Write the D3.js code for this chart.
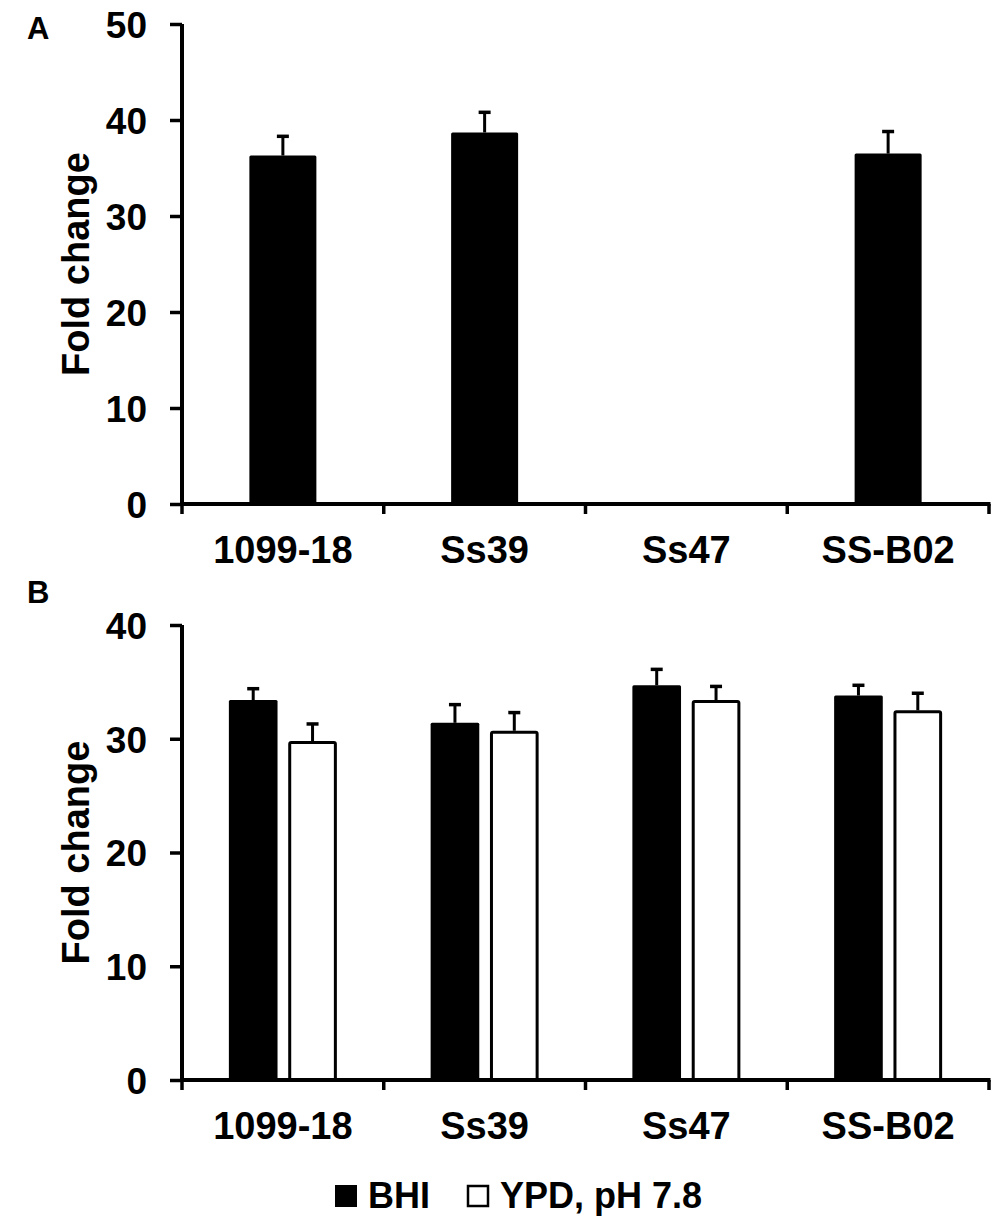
<!DOCTYPE html>
<html>
<head>
<meta charset="utf-8">
<script src="https://cdn.jsdelivr.net/npm/d3@7"></script>
<style>
  body { margin: 0; background: #fff; }
  svg text { font-family: "Liberation Sans", Arial, sans-serif; font-weight: bold; fill: #000; }
</style>
</head>
<body>
<svg id="chart" width="1000" height="1225"></svg>
<script>
const strains = ["1099-18", "Ss39", "Ss47", "SS-B02"];
const seriesNames = ["BHI", "YPD, pH 7.8"];

// panel A: BHI only (Ss47 no expression)
const aBHI = [36.3, 38.7, 0, 36.5];
const aBHIErr = [2.0, 2.1, 0, 2.3];
const aTicks = [0, 10, 20, 30, 40, 50];

// panel B: BHI vs YPD pH 7.8
const bBHI = [33.4, 31.4, 34.7, 33.8];
const bBHIErr = [1.0, 1.6, 1.4, 0.9];
const bYPD = [29.8, 30.7, 33.4, 32.5];
const bYPDErr = [1.5, 1.6, 1.2, 1.5];
const bTicks = [0, 10, 20, 30, 40];

const svg = d3.select("#chart");
const left = 182, right = 989;

function drawPanel(opts) {
  const { top, bottom, max, ticks, series, errs, letter, letterY, groupWidth } = opts;

  const x0 = d3.scaleBand().domain(strains).range([left, right]);
  const x1 = d3.scaleBand()
    .domain(series.map((s, i) => i))
    .range([0, groupWidth])
    .paddingInner(series.length > 1 ? 0.18 : 0);
  const y = d3.scaleLinear().domain([0, max]).range([bottom, top]);

  const g = svg.append("g");

  // bars
  series.forEach((vals, si) => {
    vals.forEach((v, i) => {
      if (v <= 0) return;
      const bx = x0(strains[i]) + (x0.bandwidth() - groupWidth) / 2 + x1(si);
      const filled = si === 0;
      g.append("rect")
        .attr("x", filled ? bx : bx + 1.5)
        .attr("y", filled ? y(v) : y(v) + 1.5)
        .attr("width", filled ? x1.bandwidth() : x1.bandwidth() - 3)
        .attr("height", filled ? bottom - y(v) : bottom - y(v) - 1.5)
        .attr("rx", 1.5)
        .attr("fill", filled ? "#000" : "#fff")
        .attr("stroke", "#000")
        .attr("stroke-width", filled ? 0 : 3);

      // error bar (upper only)
      const cx = bx + x1.bandwidth() / 2;
      const e = errs[si][i];
      g.append("line")
        .attr("x1", cx).attr("x2", cx)
        .attr("y1", y(v)).attr("y2", y(v + e))
        .attr("stroke", "#000").attr("stroke-width", 3);
      g.append("line")
        .attr("x1", cx - 6).attr("x2", cx + 6)
        .attr("y1", y(v + e)).attr("y2", y(v + e))
        .attr("stroke", "#000").attr("stroke-width", 3.5);
    });
  });

  // y axis
  const yAxis = g.append("g")
    .attr("transform", `translate(${left},0)`)
    .call(d3.axisLeft(y).tickValues(ticks).tickSize(12).tickPadding(23).tickSizeOuter(0));
  yAxis.select(".domain").attr("stroke-width", 4).attr("d", `M0,${top}V${bottom + 2}`);
  yAxis.selectAll(".tick line").attr("stroke-width", 3.5);
  yAxis.selectAll(".tick text").attr("font-size", 37).attr("dy", "0.36em");

  // x axis with ticks at category boundaries
  const bounds = d3.scaleLinear().domain([0, strains.length]).range([left, right]);
  g.append("line")
    .attr("x1", left - 2).attr("x2", right + 1.5)
    .attr("y1", bottom).attr("y2", bottom)
    .attr("stroke", "#000").attr("stroke-width", 4);
  d3.range(strains.length + 1).forEach(k => {
    g.append("line")
      .attr("x1", bounds(k)).attr("x2", bounds(k))
      .attr("y1", bottom).attr("y2", bottom + 10)
      .attr("stroke", "#000").attr("stroke-width", 3.5);
  });
  g.selectAll(".xlab")
    .data(strains)
    .join("text")
    .attr("x", d => x0(d) + x0.bandwidth() / 2)
    .attr("y", bottom + 59)
    .attr("text-anchor", "middle")
    .attr("font-size", 38)
    .text(d => d);

  // y label
  g.append("text")
    .attr("transform", `translate(89,${(top + bottom) / 2}) rotate(-90)`)
    .attr("text-anchor", "middle")
    .attr("font-size", 38)
    .text("Fold change");

  // panel letter
  g.append("text")
    .attr("x", 27).attr("y", letterY)
    .attr("font-size", 31)
    .text(letter);
}

drawPanel({
  top: 24, bottom: 504, max: 50, ticks: aTicks,
  series: [aBHI], errs: [aBHIErr],
  letter: "A", letterY: 39, groupWidth: 67
});

drawPanel({
  top: 625, bottom: 1080, max: 40, ticks: bTicks,
  series: [bBHI, bYPD], errs: [bBHIErr, bYPDErr],
  letter: "B", letterY: 603, groupWidth: 108
});

// legend
const legend = svg.append("g").attr("transform", "translate(335,1196)");
seriesNames.forEach((name, i) => {
  const lx = i === 0 ? 0 : 132;
  legend.append("rect")
    .attr("x", lx + (i === 0 ? 0 : 1)).attr("y", -11 + (i === 0 ? 0 : 1))
    .attr("width", i === 0 ? 22 : 20).attr("height", i === 0 ? 22 : 20)
    .attr("fill", i === 0 ? "#000" : "#fff")
    .attr("stroke", "#000").attr("stroke-width", i === 0 ? 0 : 2.5);
  legend.append("text")
    .attr("x", lx + 33).attr("y", 12)
    .attr("font-size", 36)
    .text(name);
});
</script>
</body>
</html>
